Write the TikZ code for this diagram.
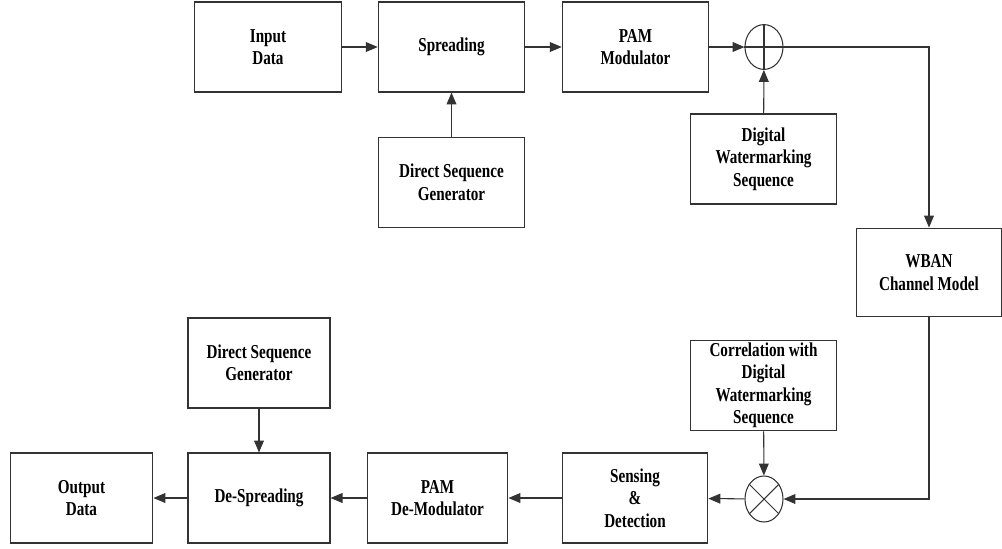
\documentclass[tikz,border=0pt]{standalone}
\usepackage{fontspec}
\setmainfont{Liberation Serif}[FakeStretch=0.77]
\usetikzlibrary{arrows.meta,positioning,shapes.geometric}

\begin{document}
\begin{tikzpicture}[x=0.025cm,y=-0.025cm,
  blk/.style={draw=black!80,line width=0.75pt,minimum width=3.66cm,minimum height=2.25cm,inner sep=1pt,align=center,font=\fontsize{14}{16}\selectfont\bfseries},
  junc/.style={ellipse,draw=black!80,line width=0.75pt,minimum width=0.95cm,minimum height=1.12cm,inner sep=0pt},
  arr/.style={draw=black!80,line width=0.75pt,-{Triangle[length=8.5pt,width=7pt]}}]
\useasboundingbox (0,0) rectangle (1002,548);
% transmitter
\node[blk] (in) at (268,47) {Input\\Data};
\node[blk] (spread) at (451.5,47) {Spreading};
\node[blk] (pam) at (635.5,47) {PAM\\Modulator};
\node[junc] (plus) at (764,47) {};
\draw[black!80,line width=0.75pt] (plus.north)--(plus.south) (plus.west)--(plus.east);
\node[blk,minimum height=2.27cm] (dsgtx) at (451.5,182.5) {Direct Sequence\\Generator};
\node[blk] (wm) at (763.5,159) {Digital\\Watermarking\\Sequence};
% channel
\node[blk,minimum width=3.63cm,minimum height=2.22cm] (wban) at (929,272.5) {WBAN\\Channel Model};
% receiver
\node[blk,minimum height=2.27cm] (corr) at (763.5,385.5) {Correlation with\\Digital\\Watermarking\\Sequence};
\node[junc,minimum height=1.15cm] (times) at (764,499) {};
\draw[black!80,line width=0.75pt] (times.45)--(times.225) (times.135)--(times.315);
\node[blk,minimum width=3.64cm] (sense) at (635,498) {Sensing\\\&\\Detection};
\node[blk,minimum width=3.52cm] (demod) at (437.5,498) {PAM\\De-Modulator};
\node[blk,minimum width=3.55cm] (desp) at (259,498) {De-Spreading};
\node[blk,minimum width=3.55cm] (dsgrx) at (259,363) {Direct Sequence\\Generator};
\node[blk,minimum width=3.57cm] (out) at (81.5,498) {Output\\Data};

\draw[arr] (in)--(spread);
\draw[arr] (spread)--(pam);
\draw[arr] (pam)--(plus);
\draw[arr] (dsgtx)--(spread);
\draw[arr] (wm)--(plus);
\draw[arr] (plus.east) -| (wban.north);
\draw[arr] (wban.south) |- (times.east);
\draw[arr] (corr)--(times);
\foreach \a/\b in {times/sense,sense/demod,demod/desp,desp/out}{\draw[arr] (\a)--(\b);}
\draw[arr] (dsgrx)--(desp);
\end{tikzpicture}
\end{document}
